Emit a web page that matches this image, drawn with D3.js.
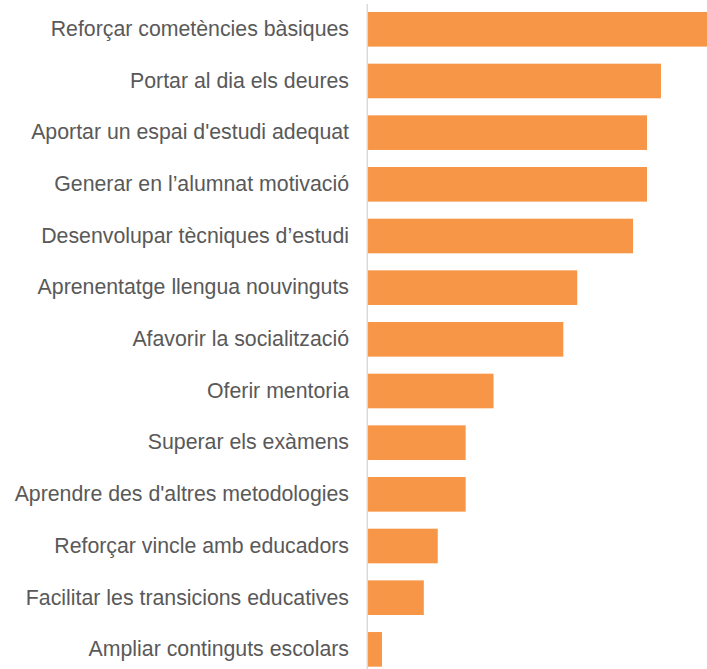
<!DOCTYPE html>
<html>
<head>
<meta charset="utf-8">
<script src="https://cdn.jsdelivr.net/npm/d3@7/dist/d3.min.js"></script>
<style>
  html, body { margin: 0; padding: 0; background: #fff; }
  svg { display: block; }
</style>
</head>
<body>
<svg id="chart" width="707" height="669"></svg>
<script>
const categories = [
  "Reforçar cometències bàsiques",
  "Portar al dia els deures",
  "Aportar un espai d'estudi adequat",
  "Generar en l’alumnat motivació",
  "Desenvolupar tècniques d’estudi ",
  "Aprenentatge llengua nouvinguts",
  "Afavorir la socialització",
  "Oferir mentoria",
  "Superar els exàmens",
  "Aprendre des d'altres metodologies",
  "Reforçar vincle amb educadors",
  "Facilitar les transicions educatives",
  "Ampliar continguts escolars"
];
const values = [25, 21, 20, 20, 19, 15, 14, 9, 7, 7, 5, 4, 1];

const svg = d3.select("#chart");
const x0 = 368;
const step = 51.67;
const y0 = 12 - 0.165 * step;

const x = d3.scaleLinear().domain([0, 25]).range([x0, x0 + 25 * 13.95]);
const y = d3.scaleBand()
  .domain(categories)
  .range([y0, y0 + step * categories.length])
  .paddingInner(0.33)
  .paddingOuter(0.165);

svg.append("g").selectAll("rect")
  .data(categories)
  .join("rect")
  .attr("x", x(0))
  .attr("y", d => y(d))
  .attr("width", (d, i) => x(values[i]) - x(0))
  .attr("height", y.bandwidth())
  .attr("fill", "#F79646");

const yAxis = d3.axisLeft(y).tickSize(0).tickPadding(19);
const g = svg.append("g").attr("transform", `translate(${x0},0)`).call(yAxis);
g.select(".domain").remove();
g.selectAll("text")
  .attr("fill", "#595959")
  .style("font-family", "'Liberation Sans', Arial, sans-serif")
  .style("font-size", "21.3px");

svg.append("line")
  .attr("x1", 367.3).attr("x2", 367.3)
  .attr("y1", 4).attr("y2", 669)
  .attr("stroke", "#d9d9d9")
  .attr("stroke-width", 1.5);
</script>
</body>
</html>
